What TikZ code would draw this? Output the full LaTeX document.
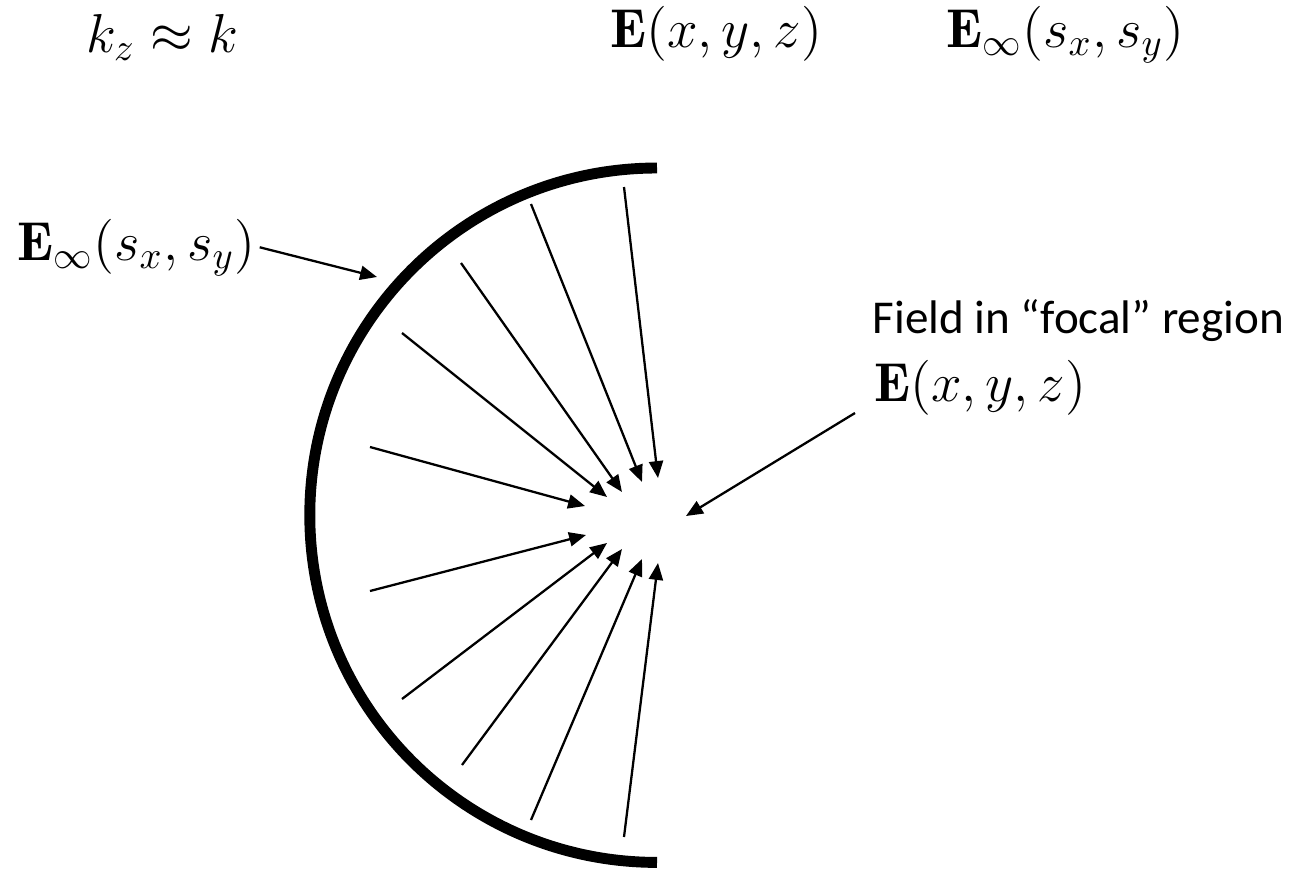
\documentclass[tikz,border=0pt]{standalone}
\usepackage{fix-cm}
\usepackage{fontspec}
\newfontfamily\calibri{Carlito}
\usetikzlibrary{arrows.meta}

\begin{document}
\begin{tikzpicture}[x=0.01cm,y=-0.01cm,>={Triangle[length=4.8pt,width=4pt]},
  lbl/.style={inner sep=1pt,anchor=base west,font=\fontsize{15.6}{18}\selectfont},
  ray/.style={->,line width=0.65pt}]
  \useasboundingbox (0,0) rectangle (1293,869);
  % labels on top
  \node[lbl] (kz) at (82,52) {$k_z\approx k$};
  \node[lbl] (etop) at (606,47) {$\mathbf{E}(x,y,z)$};
  \node[lbl] (einftop) at (942,47) {$\mathbf{E}_\infty(s_x,s_y)$};
  % reference sphere
  \draw[line width=3.1pt] (657,168) arc[start angle=90,end angle=270,radius=3.47cm];
  % rays towards the focus
  \foreach \sx/\sy/\tx/\ty in {624/187/658/478, 531/204/642/482, 461/263/622/492,
      402/333/607/497, 370/447/585/506, 370/591/586/535, 402/699/607/543,
      462/765/622/549, 531/820/642/559, 624/837/658/563}
    \draw[ray] (\sx,\sy) -- (\tx,\ty);
  % left label
  \node[lbl] (einf) at (13,260) {$\mathbf{E}_\infty(s_x,s_y)$};
  \coordinate (sph) at (377,277);
  \draw[ray] (einf.east) -- (sph);
  % focal region
  \node[inner sep=0pt,anchor=base west,font=\calibri\fontsize{13.4}{16}\selectfont] (focal) at (872,333) {Field in “focal” region};
  \node[lbl] (efocal) at (870,401) {$\mathbf{E}(x,y,z)$};
  \coordinate (fstart) at (855,413);
  \coordinate (ftip) at (686,516);
  \draw[ray] (fstart) -- (ftip);
\end{tikzpicture}
\end{document}
